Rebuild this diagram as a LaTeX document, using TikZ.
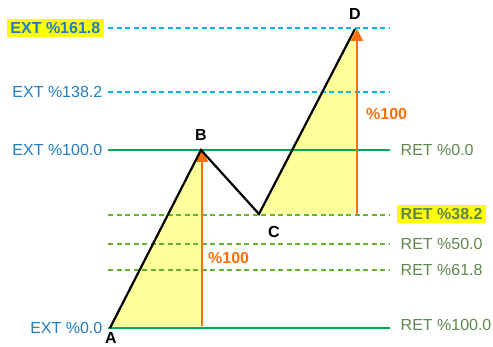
\documentclass[tikz,border=0pt]{standalone}
\usepackage{fontspec}
\setmainfont{Liberation Sans}
\usetikzlibrary{arrows.meta}
\definecolor{extblue}{RGB}{30,125,195}
\definecolor{retgreen}{RGB}{95,135,75}
\definecolor{solidgreen}{RGB}{0,170,80}
\definecolor{dashblue}{RGB}{0,180,240}
\definecolor{dashgreen}{RGB}{100,180,40}
\definecolor{arrorange}{RGB}{255,110,10}
\definecolor{fillyellow}{RGB}{255,255,155}
\definecolor{hlyellow}{RGB}{255,255,0}
\tikzset{
  lvlsolid/.style={draw=solidgreen, line width=2.4pt},
  lvlblue/.style={draw=dashblue, line width=1.4pt, dash pattern=on 5pt off 3.5pt},
  lvlgreen/.style={draw=dashgreen, line width=1.4pt, dash pattern=on 5pt off 3.5pt},
  extlbl/.style={anchor=east, text=extblue, font=\fontsize{16}{16}\selectfont, inner sep=1.5pt},
  retlbl/.style={anchor=west, text=retgreen, font=\fontsize{16}{16}\selectfont, inner sep=1.5pt},
  hl/.style={fill=hlyellow, font=\fontsize{16}{16}\selectfont\bfseries, inner sep=3.5pt},
  ptlbl/.style={font=\fontsize{16}{16}\selectfont\bfseries, inner sep=0pt},
  wave/.style={draw=black, line width=2.2pt, line join=miter},
  tri/.style={fill=fillyellow},
  meas/.style={draw=arrorange, line width=2.8pt, -{Triangle[length=12pt,width=12pt]}},
  measlbl/.style={text=arrorange, font=\fontsize{16}{16}\selectfont\bfseries, inner sep=0pt}
}
\begin{document}
\begin{tikzpicture}[x=1pt,y=-1pt]
\useasboundingbox (0,0) rectangle (493,347);
% points
\coordinate (A) at (110,328);
\coordinate (B) at (201,150);
\coordinate (C) at (259,214);
\coordinate (D) at (355,29);
\coordinate (Bf) at (201,328);
\coordinate (Df) at (355,214);
% triangles
\fill[tri] (A) -- (B) -- (Bf) -- cycle;
\fill[tri] (C) -- (D) -- (Df) -- cycle;
% level lines
\coordinate (l1a) at (108,28);  \coordinate (l1b) at (390,28);
\coordinate (l2a) at (108,92);  \coordinate (l2b) at (390,92);
\coordinate (l3a) at (108,150); \coordinate (l3b) at (390,150);
\coordinate (l4a) at (108,215); \coordinate (l4b) at (390,215);
\coordinate (l5a) at (108,244); \coordinate (l5b) at (390,244);
\coordinate (l6a) at (108,270); \coordinate (l6b) at (390,270);
\coordinate (l7a) at (108,328); \coordinate (l7b) at (390,328);
\draw[lvlblue] (l1a) -- (l1b);
\draw[lvlblue] (l2a) -- (l2b);
\draw[lvlsolid] (l3a) -- (l3b);
\draw[lvlgreen] (l4a) -- (l4b);
\draw[lvlgreen] (l5a) -- (l5b);
\draw[lvlgreen] (l6a) -- (l6b);
\draw[lvlsolid] (l7a) -- (l7b);
% arrows
\coordinate (m1s) at (202,326);
\coordinate (m1e) at (202,150);
\coordinate (m2s) at (357,214);
\coordinate (m2e) at (357,29);
\draw[meas] (m1s) -- (m1e);
\draw[meas] (m2s) -- (m2e);
\node[measlbl, anchor=west] (p1) at (208,258) {\%100};
\node[measlbl, anchor=west] (p2) at (366,114) {\%100};
% wave
\draw[wave] (A) -- (B) -- (C) -- (D);
% point labels
\node[ptlbl] (nA) at (111,338) {A};
\node[ptlbl] (nB) at (201,135) {B};
\node[ptlbl] (nC) at (274,232) {C};
\node[ptlbl] (nD) at (355,14) {D};
% left labels
\node[extlbl, hl, anchor=east] (e1) at (104,28) {EXT \%161.8};
\node[extlbl] (e2) at (104,92) {EXT \%138.2};
\node[extlbl] (e3) at (104,150) {EXT \%100.0};
\node[extlbl] (e4) at (104,328) {EXT \%0.0};
% right labels
\node[retlbl] (r1) at (399,150) {RET \%0.0};
\node[retlbl, hl, anchor=west] (r2) at (397,214) {RET \%38.2};
\node[retlbl] (r3) at (399,244) {RET \%50.0};
\node[retlbl] (r4) at (399,270) {RET \%61.8};
\node[retlbl] (r5) at (399,325) {RET \%100.0};
\end{tikzpicture}
\end{document}
